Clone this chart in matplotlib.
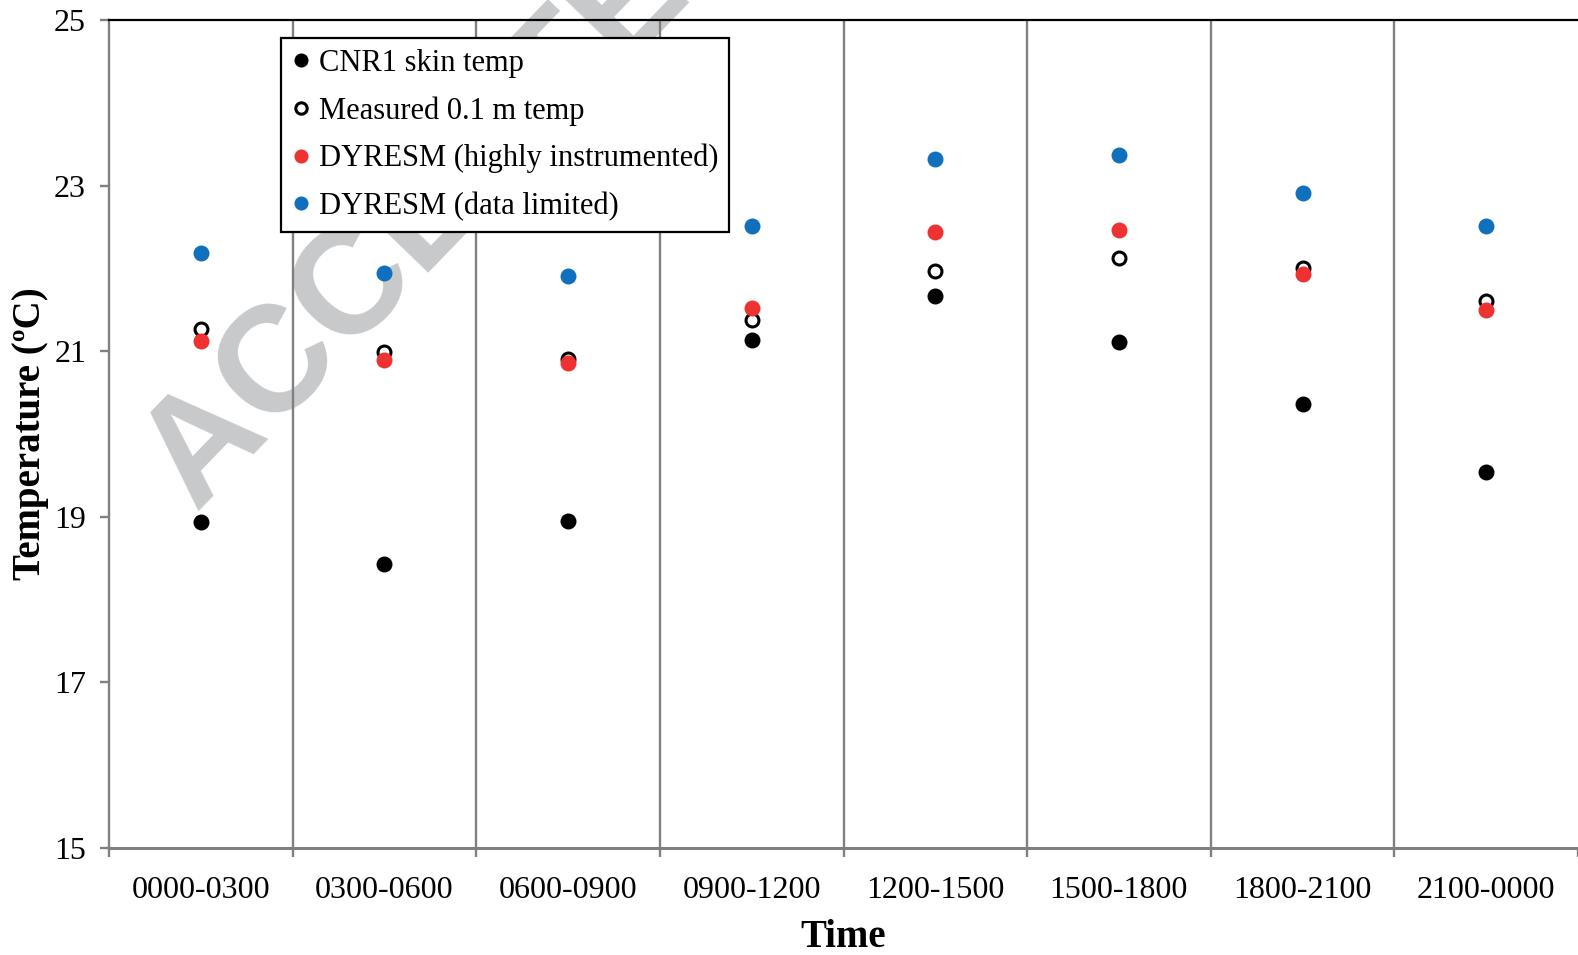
import matplotlib
matplotlib.use("Agg")
import matplotlib.pyplot as plt
from matplotlib.ticker import FixedLocator, NullFormatter, FixedFormatter

# ---- data ----
time_bins = ["0000-0300", "0300-0600", "0600-0900", "0900-1200",
             "1200-1500", "1500-1800", "1800-2100", "2100-0000"]
cnr1_skin = [18.94, 18.43, 18.95, 21.14, 21.67, 21.11, 20.36, 19.54]
measured_01m = [21.27, 20.99, 20.91, 21.38, 21.97, 22.12, 22.01, 21.61]
dyresm_high = [21.12, 20.89, 20.86, 21.52, 22.44, 22.46, 21.93, 21.50]
dyresm_limited = [22.18, 21.94, 21.91, 22.51, 23.32, 23.37, 22.91, 22.51]
y_ticks = [15, 17, 19, 21, 23, 25]

W, H = 1578, 955
fig = plt.figure(figsize=(W / 100, H / 100), dpi=100)
ax = fig.add_axes([109 / W, 1 - 848 / H, 1 - 109 / W, (848 - 20) / H])

serif = "Liberation Serif"
gray = "#808080"

x = [i + 0.5 for i in range(len(time_bins))]
ms = 11.5
ax.plot(x, cnr1_skin, ls="none", marker="o", ms=ms, mfc="black", mec="black",
        mew=0, label="CNR1 skin temp", zorder=3, clip_on=False)
ax.plot(x, measured_01m, ls="none", marker="o", ms=ms - 2.2, mfc="white", mec="black",
        mew=2.2, label="Measured 0.1 m temp", zorder=3, clip_on=False)
ax.plot(x, dyresm_high, ls="none", marker="o", ms=ms, mfc="#EE3232", mec="#EE3232",
        mew=0, label="DYRESM (highly instrumented)", zorder=3, clip_on=False)
ax.plot(x, dyresm_limited, ls="none", marker="o", ms=ms, mfc="#1170BE", mec="#1170BE",
        mew=0, label="DYRESM (data limited)", zorder=3, clip_on=False)

ax.set_xlim(0, len(time_bins))
ax.set_ylim(15, 25)

# category boundaries
for b in range(1, len(time_bins)):
    ax.axvline(b, color=gray, lw=1.7, zorder=1)

# x ticks: boundaries (marks) and centres (labels)
ax.xaxis.set_major_locator(FixedLocator(list(range(0, len(time_bins) + 1))))
ax.xaxis.set_major_formatter(NullFormatter())
ax.xaxis.set_minor_locator(FixedLocator(x))
ax.xaxis.set_minor_formatter(FixedFormatter(time_bins))
ax.tick_params(axis="x", which="major", direction="out", length=6.5, width=1.7, color=gray)
ax.tick_params(axis="x", which="minor", length=0, pad=20, labelsize=23)
ax.set_yticks(y_ticks)
ax.tick_params(axis="y", direction="out", length=6.5, width=1.7, color=gray,
               pad=10, labelsize=23)
for lab in ax.get_xticklabels(minor=True) + ax.get_yticklabels():
    lab.set_fontfamily(serif)

ax.spines["right"].set_visible(False)
ax.spines["top"].set_color("black")
ax.spines["top"].set_linewidth(1.6)
ax.spines["left"].set_color(gray)
ax.spines["left"].set_linewidth(1.7)
ax.spines["bottom"].set_color(gray)
ax.spines["bottom"].set_linewidth(2.2)

ax.set_xlabel("Time", fontfamily=serif, fontweight="bold", fontsize=28, labelpad=10)
ax.set_ylabel("Temperature (\u00baC)", fontfamily=serif, fontweight="bold",
              fontsize=28, labelpad=4)

# watermark
ax.text(196 / W, 1 - 513 / H, "ACCEPTED MANUSCRIPT", transform=fig.transFigure,
        rotation=46, rotation_mode="anchor", ha="left", va="baseline",
        fontsize=108, fontweight="bold", fontfamily="Liberation Sans",
        color="#C8C9CA", zorder=0.5, clip_on=False)

leg = ax.legend(loc="upper left", bbox_to_anchor=(281 / W, 1 - 38 / H),
                bbox_transform=fig.transFigure, borderaxespad=0,
                prop={"family": serif, "size": 22}, frameon=True, fancybox=False,
                edgecolor="black", framealpha=1, markerscale=0.88,
                handlelength=0.6, handletextpad=0.3, labelspacing=0.6,
                borderpad=0.35)
leg.get_frame().set_linewidth(1.6)
leg.set_zorder(5)

fig.savefig("out.png", dpi=100)
